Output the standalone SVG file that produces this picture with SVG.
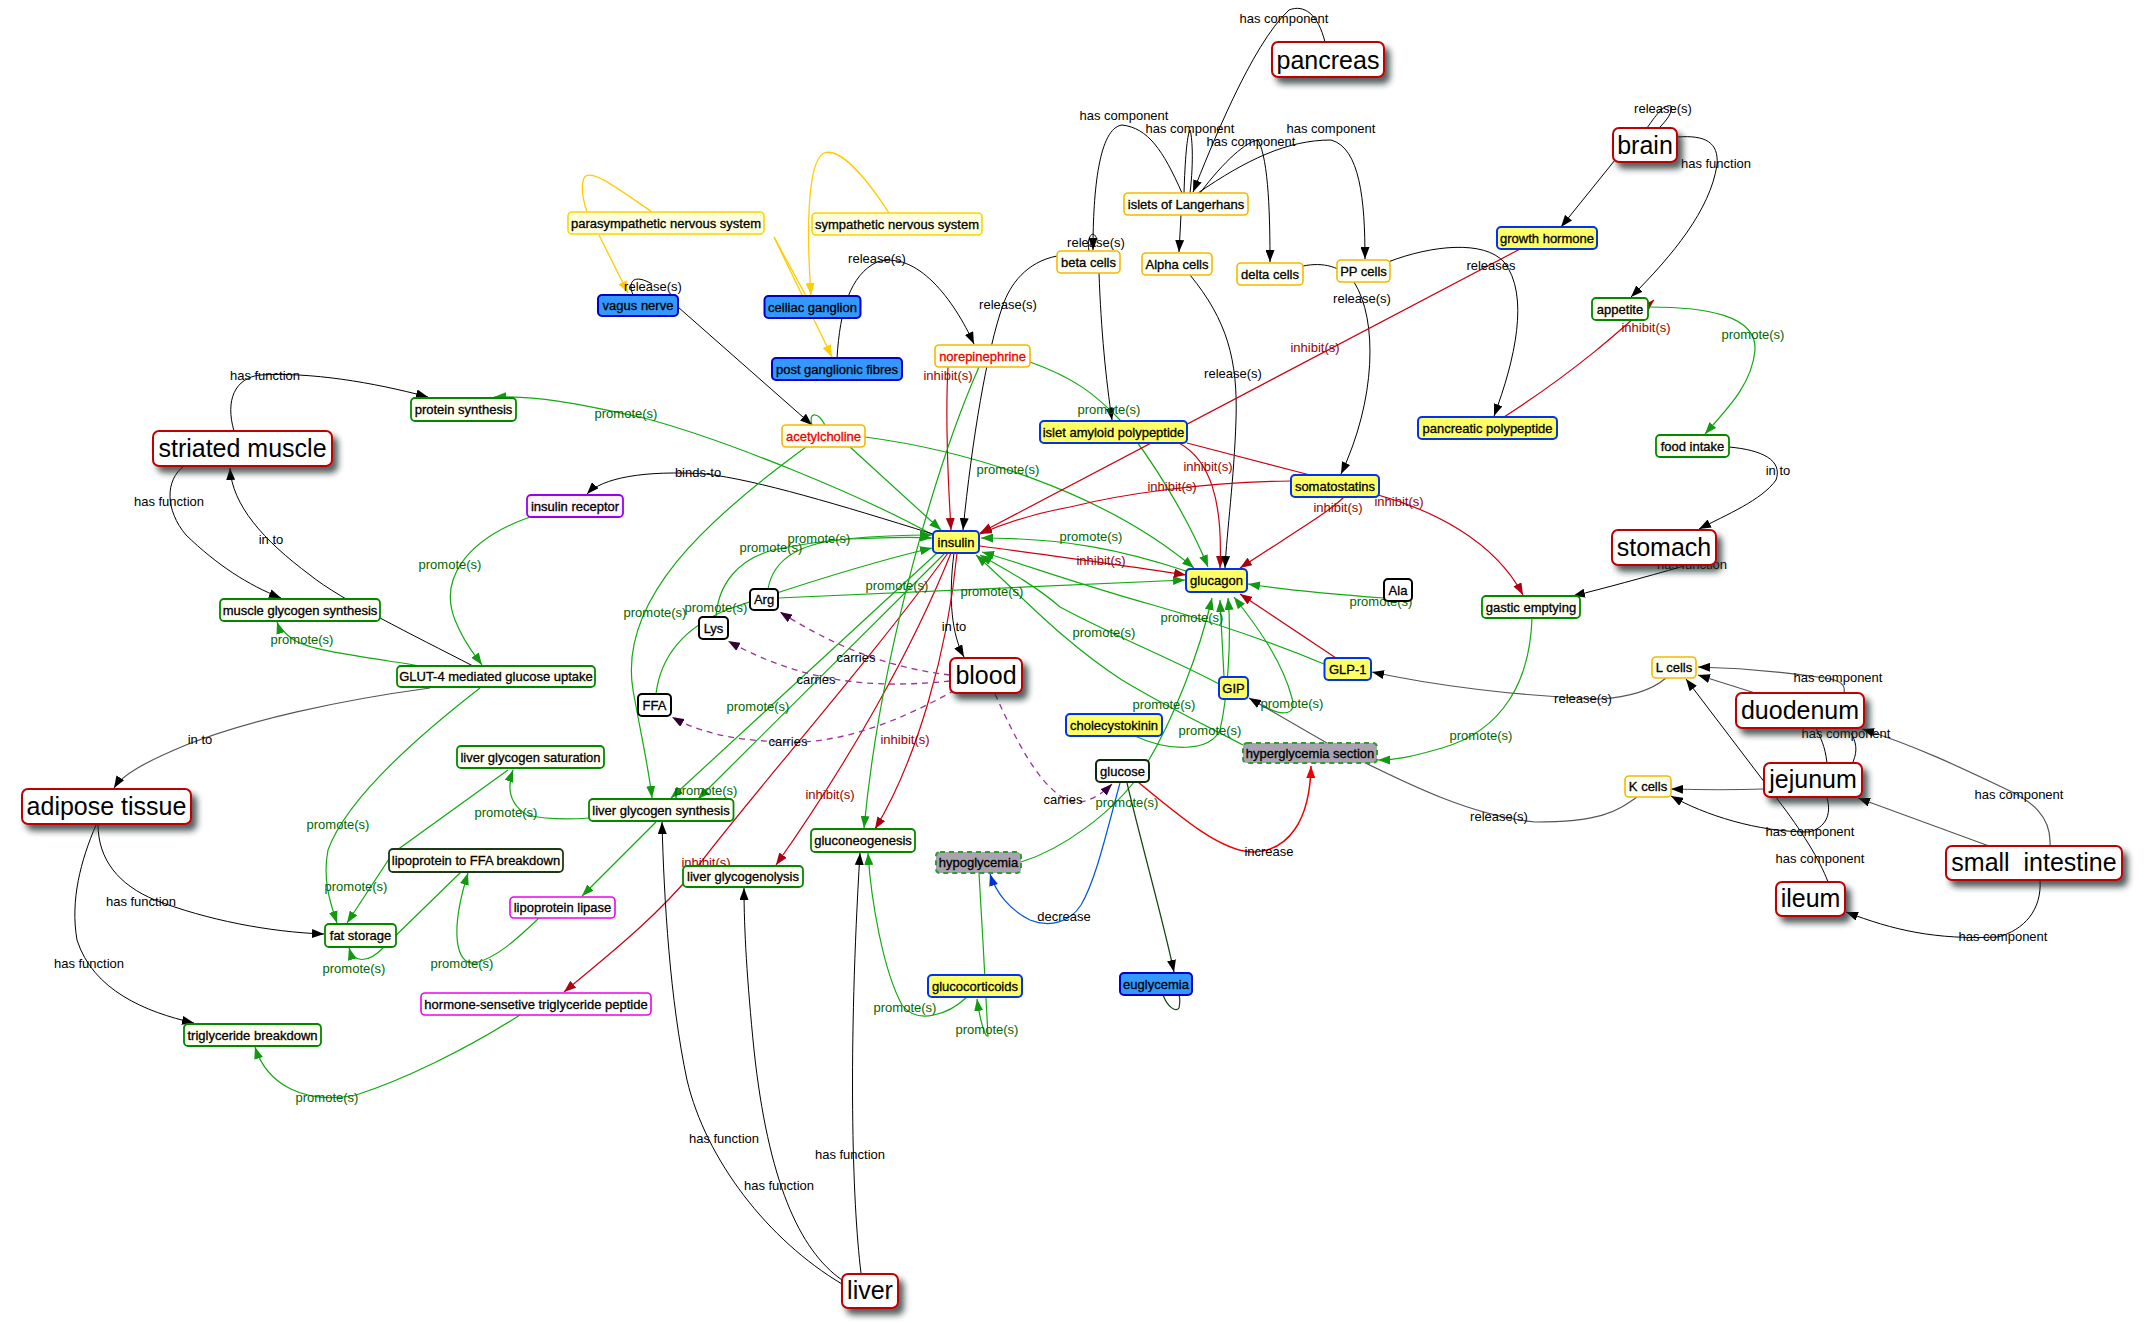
<svg xmlns="http://www.w3.org/2000/svg" width="2147" height="1323" viewBox="0 0 2147 1323">
<style>
text{font-family:"Liberation Sans",Arial,sans-serif;}
.t{font-size:13px;text-anchor:middle;fill:#000;stroke:#000;stroke-width:0.3;}
.T{font-size:25px;text-anchor:middle;fill:#000;}
.tr{font-size:13px;text-anchor:middle;fill:#ee0000;stroke:#ee0000;stroke-width:0.3;}
.el{font-size:13px;text-anchor:middle;fill:#000;}
.eg{font-size:13px;text-anchor:middle;fill:#006600;}
.er{font-size:13px;text-anchor:middle;fill:#990000;}
.org{fill:#fff;stroke:#c00000;stroke-width:2;filter:url(#sh);}
.yel{fill:#ffff66;stroke:#0033ee;stroke-width:2;}
.blu{fill:#3399ff;stroke:#0000cc;stroke-width:2;}
.gold{fill:#fffff2;stroke:#f5b800;stroke-width:1.6;}
.pale{fill:#ffffdd;stroke:#f5d800;stroke-width:1.6;}
.grn{fill:#fffff0;stroke:#008800;stroke-width:1.8;}
.dk{fill:#fffff0;stroke:#1a3a1a;stroke-width:1.8;}
.blk{fill:#fff;stroke:#000;stroke-width:2;}
.mag{fill:#fff;stroke:#ee00ee;stroke-width:1.6;}
.pur{fill:#fff4ff;stroke:#9900ee;stroke-width:1.8;}
.gry{fill:#a8a3ae;stroke:#339933;stroke-width:2;stroke-dasharray:5 4;}
.k{stroke:#000;stroke-width:1;fill:none;marker-end:url(#mk);}
.k0{stroke:#000;stroke-width:1;fill:none;}
.kg{stroke:#555;stroke-width:1.2;fill:none;marker-end:url(#mk);}
.g{stroke:#11aa11;stroke-width:1.2;fill:none;marker-end:url(#mg);}
.g0{stroke:#11aa11;stroke-width:1.2;fill:none;}
.r{stroke:#cc0011;stroke-width:1.2;fill:none;marker-end:url(#mr);}
.r0{stroke:#cc0011;stroke-width:1.2;fill:none;}
.rb{stroke:#ee0000;stroke-width:1.5;fill:none;marker-end:url(#mrb);}
.p{stroke:#993399;stroke-width:1.3;fill:none;stroke-dasharray:6 5;marker-end:url(#mp);}
.b{stroke:#0055dd;stroke-width:1.2;fill:none;marker-end:url(#mb);}
.y{stroke:#ffcc00;stroke-width:1.3;fill:none;marker-end:url(#my);}
.y0{stroke:#ffcc00;stroke-width:1.3;fill:none;}
.dg{stroke:#114411;stroke-width:1.2;fill:none;marker-end:url(#mk);}
.dg0{stroke:#114411;stroke-width:1.2;fill:none;}
</style>
<defs>
<filter id="sh" x="-20%" y="-30%" width="150%" height="190%">
<feDropShadow dx="5" dy="6" stdDeviation="3" flood-color="#1a2a2a" flood-opacity="0.75"/>
</filter>
<marker id="mk" viewBox="0 0 12 9" refX="12" refY="4.5" markerWidth="12" markerHeight="9" markerUnits="userSpaceOnUse" orient="auto"><path d="M0,0 L12,4.5 L0,9 z" fill="#000"/></marker>
<marker id="mg" viewBox="0 0 12 9" refX="12" refY="4.5" markerWidth="12" markerHeight="9" markerUnits="userSpaceOnUse" orient="auto"><path d="M0,0 L12,4.5 L0,9 z" fill="#119911"/></marker>
<marker id="mr" viewBox="0 0 12 9" refX="12" refY="4.5" markerWidth="12" markerHeight="9" markerUnits="userSpaceOnUse" orient="auto"><path d="M0,0 L12,4.5 L0,9 z" fill="#aa0011"/></marker>
<marker id="mrb" viewBox="0 0 12 9" refX="12" refY="4.5" markerWidth="12" markerHeight="9" markerUnits="userSpaceOnUse" orient="auto"><path d="M0,0 L12,4.5 L0,9 z" fill="#ee0000"/></marker>
<marker id="mp" viewBox="0 0 12 9" refX="12" refY="4.5" markerWidth="12" markerHeight="9" markerUnits="userSpaceOnUse" orient="auto"><path d="M0,0 L12,4.5 L0,9 z" fill="#330033"/></marker>
<marker id="mb" viewBox="0 0 12 9" refX="12" refY="4.5" markerWidth="12" markerHeight="9" markerUnits="userSpaceOnUse" orient="auto"><path d="M0,0 L12,4.5 L0,9 z" fill="#0033cc"/></marker>
<marker id="my" viewBox="0 0 12 9" refX="12" refY="4.5" markerWidth="12" markerHeight="9" markerUnits="userSpaceOnUse" orient="auto"><path d="M0,0 L12,4.5 L0,9 z" fill="#ffcc00"/></marker>
</defs>
<rect width="2147" height="1323" fill="#fff"/>
<g id="connectors">
<path class="k" d="M234 431 C225 400 235 378 260 375 C310 372 372 382 428 397"/>
<path class="k" d="M184 466 C165 480 165 510 186 535 C217 565 248 585 281 598"/>
<path class="k" d="M473 666 C413 635 341 600 310 575 C263 540 232 505 230 468"/>
<path class="g" d="M421 666 C351 655 310 650 294 640 C284 633 279 628 277 622"/>
<path class="g" d="M530 517 C465 540 439 580 455 620 C465 645 475 655 482 665"/>
<path class="kg" d="M430 688 C341 700 248 720 186 745 C145 762 122 775 114 788"/>
<path class="g" d="M480 688 C413 740 346 800 328 850 C322 880 331 905 337 923"/>
<path class="g" d="M508 770 L393 853 L347 923"/>
<path class="g" d="M589 818 C562 820 545 819 527 815 C511 805 506 790 513 770"/>
<path class="g" d="M539 918 C516 940 496 958 475 963 C455 965 450 930 468 873"/>
<path class="g" d="M461 872 L384 947 C367 965 353 962 349 948"/>
<path class="k" d="M98 824 C98 860 119 885 155 900 C207 920 269 932 324 934"/>
<path class="k" d="M96 825 C81 860 70 900 77 940 C93 990 145 1012 194 1023"/>
<path class="g" d="M520 1015 C465 1050 403 1080 356 1095 C305 1105 267 1085 255 1047"/>
<path class="g" d="M933 535 C861 495 726 440 644 418 C571 402 537 396 494 397"/>
<path class="k" d="M933 534 C840 505 757 480 706 474 C644 470 602 478 587 494"/>
<path class="k" d="M954 553 C948 600 952 635 964 657"/>
<path class="r" d="M957 553 C948 650 917 760 875 829"/>
<path class="r" d="M951 553 C912 650 850 760 776 865"/>
<path class="r" d="M948 553 C871 660 747 800 695 870 C654 920 602 960 564 992"/>
<path class="g" d="M937 553 L671 798"/>
<path class="g" d="M945 553 L698 799"/>
<path class="g" d="M806 447 C706 520 618 600 633 690 C642 740 649 770 652 798"/>
<path class="g" d="M850 447 L941 530"/>
<path class="g" d="M865 437 C964 450 1101 490 1194 568"/>
<path class="g0" d="M812 425 C808 413 817 410 825 425"/>
<path class="k" d="M678 307 L812 425"/>
<path class="k0" d="M633 295 C627 280 635 274 652 284"/>
<path class="y0" d="M652 212 C613 185 590 168 584 178 C580 188 583 200 587 212"/>
<path class="y" d="M599 235 L628 293"/>
<path class="y" d="M889 213 C861 170 838 148 824 153 C806 162 807 240 811 295"/>
<path class="y0" d="M774 237 L806 296"/>
<path class="y" d="M774 237 L832 357"/>
<path class="k" d="M837 358 C840 310 850 275 877 262 C917 250 954 300 974 344"/>
<path class="k" d="M1057 256 C1026 262 1010 285 1003 305 C987 350 972 440 963 530"/>
<path class="r" d="M948 367 C945 420 948 480 951 530"/>
<path class="g" d="M1030 362 C1075 378 1096 395 1120 420 C1153 460 1189 520 1208 567"/>
<path class="g" d="M979 367 C938 460 881 650 864 828"/>
<path class="g" d="M768 589 C773 560 799 542 850 539 C892 537 917 537 932 538"/>
<path class="g" d="M716 617 C718 585 737 560 773 550 C830 538 892 535 932 535"/>
<path class="g" d="M656 694 C660 660 680 630 726 610 C799 585 881 560 932 548"/>
<path class="g" d="M778 598 L1185 580"/>
<path class="p" d="M950 675 C892 668 840 650 780 612"/>
<path class="p" d="M950 681 C881 688 809 686 728 641"/>
<path class="p" d="M955 690 C902 720 840 745 783 742 C726 740 695 730 672 717"/>
<path class="p" d="M995 694 C1016 740 1036 780 1062 797 C1076 808 1096 800 1112 784"/>
<path class="r" d="M1179 443 C1210 460 1223 500 1220 568"/>
<path class="k" d="M1190 275 C1227 320 1238 360 1236 420 C1234 480 1227 530 1225 568"/>
<path class="k" d="M1303 266 C1323 262 1341 266 1354 282 C1378 320 1376 400 1341 474"/>
<path class="k" d="M1388 262 C1432 245 1484 240 1504 262 C1530 295 1515 360 1494 416"/>
<path class="k" d="M1181 215 L1179 252"/>
<path class="k" d="M1325 42 C1318 14 1304 4 1289 10 C1251 45 1210 150 1193 192"/>
<path class="k" d="M1182 193 C1163 150 1148 128 1122 125 C1099 128 1093 190 1093 250"/>
<path class="k0" d="M1184 193 C1185 160 1187 135 1190 130 C1192 135 1194 160 1190 193"/>
<path class="k" d="M1200 193 C1225 160 1246 142 1258 140 C1269 160 1270 220 1270 262"/>
<path class="k" d="M1198 193 C1246 160 1287 140 1331 140 C1360 148 1365 200 1365 259"/>
<path class="k0" d="M1089 251 C1086 236 1094 228 1097 240"/>
<path class="k" d="M1099 273 C1101 330 1106 380 1112 420"/>
<path class="k" d="M1615 160 L1561 227"/>
<path class="k0" d="M1647 128 C1658 112 1665 104 1671 106 C1673 112 1667 120 1659 128"/>
<path class="k" d="M1678 137 C1705 135 1719 142 1717 165 C1710 210 1673 255 1631 297"/>
<path class="r" d="M1522 248 L980 533"/>
<path class="r" d="M1504 417 C1577 370 1621 330 1654 300"/>
<path class="g" d="M1649 307 C1705 307 1757 315 1755 350 C1752 385 1726 410 1705 434"/>
<path class="k" d="M1729 447 C1762 450 1783 460 1776 480 C1762 500 1726 515 1699 529"/>
<path class="k" d="M1684 566 C1642 578 1605 588 1573 596"/>
<path class="r" d="M1378 495 C1432 510 1494 540 1523 595"/>
<path class="r" d="M1344 497 C1329 512 1298 530 1240 568"/>
<path class="r" d="M1291 481 C1205 482 1122 494 1070 507 C1026 515 1000 525 980 534"/>
<path class="r0" d="M1310 475 L1187 443"/>
<path class="r" d="M980 546 C1046 555 1122 565 1186 575"/>
<path class="g" d="M1186 571 C1122 550 1066 538 981 538"/>
<path class="r" d="M1336 658 L1240 594"/>
<path class="g" d="M1324 664 C1267 640 1205 620 1153 605 C1081 585 1026 565 982 552"/>
<path class="g" d="M1219 684 C1174 660 1112 635 1060 607 C1035 585 1003 568 980 555"/>
<path class="g" d="M1243 745 C1205 725 1163 705 1122 680 C1060 640 1016 590 976 555"/>
<path class="g" d="M1224 677 L1220 600"/>
<path class="g" d="M1135 736 C1169 752 1210 752 1220 730 C1227 700 1232 640 1228 598"/>
<path class="g" d="M1021 862 C1060 850 1112 815 1143 770 C1174 720 1200 650 1212 598"/>
<path class="g" d="M1263 705 C1277 715 1298 718 1292 698 C1282 660 1256 625 1234 597"/>
<path class="g" d="M1384 598 C1329 594 1287 590 1248 584"/>
<path class="kg" d="M1666 678 C1652 690 1631 697 1600 699 C1515 696 1432 685 1372 672"/>
<path class="kg" d="M1637 797 C1616 812 1600 822 1535 822 C1463 815 1391 775 1339 750 L1249 698"/>
<path class="g" d="M1532 618 C1530 680 1504 730 1442 748 C1411 757 1396 760 1378 760"/>
<path class="rb" d="M1138 782 C1184 820 1220 850 1251 852 C1289 852 1310 820 1311 766"/>
<path class="b" d="M1120 783 C1107 830 1096 880 1081 905 C1070 922 1050 928 1030 920 C1010 910 996 893 990 874"/>
<path class="dg" d="M1127 783 C1143 850 1163 920 1174 972"/>
<path class="dg0" d="M1163 995 C1168 1008 1176 1012 1179 1008 C1180 1003 1180 998 1179 995"/>
<path class="g" d="M967 997 C948 1015 917 1025 902 1005 C883 970 871 900 868 853"/>
<path class="g" d="M979 873 C982 920 986 1000 988 1036 C985 1038 980 1020 977 999"/>
<path class="k" d="M842 1280 C799 1250 768 1180 754 1050 C747 980 744 930 744 888"/>
<path class="k" d="M842 1284 C768 1240 706 1160 687 1080 C670 1000 664 900 662 822"/>
<path class="k" d="M861 1273 C852 1200 848 1050 860 853"/>
<path class="g" d="M656 822 L582 896"/>
<path class="kg" d="M1844 693 C1846 684 1839 680 1825 678 C1778 671 1736 668 1698 667"/>
<path class="kg" d="M1755 693 L1698 675"/>
<path class="k" d="M1828 882 C1820 860 1801 830 1778 800 L1686 679"/>
<path class="k" d="M1827 798 C1832 815 1825 828 1809 832 C1757 832 1705 815 1671 796"/>
<path class="kg" d="M1764 789 C1736 790 1705 790 1671 789"/>
<path class="kg" d="M1989 846 L1858 798"/>
<path class="kg" d="M2050 846 C2052 815 2029 800 2008 790 C1966 770 1914 745 1862 729"/>
<path class="k0" d="M1827 763 C1825 745 1820 737 1816 728"/>
<path class="k0" d="M1853 762 C1858 750 1856 742 1851 733"/>
<path class="k" d="M2040 880 C2042 910 2024 930 1998 937 C1935 940 1893 930 1846 912"/>
<g id="edge-labels">
<text class="el" x="265" y="380">has function</text>
<text class="el" x="169" y="506">has function</text>
<text class="el" x="271" y="544">in to</text>
<text class="eg" x="302" y="644">promote(s)</text>
<text class="eg" x="450" y="569">promote(s)</text>
<text class="el" x="200" y="744">in to</text>
<text class="eg" x="338" y="829">promote(s)</text>
<text class="eg" x="356" y="891">promote(s)</text>
<text class="eg" x="506" y="817">promote(s)</text>
<text class="eg" x="462" y="968">promote(s)</text>
<text class="eg" x="354" y="973">promote(s)</text>
<text class="el" x="141" y="906">has function</text>
<text class="el" x="89" y="968">has function</text>
<text class="eg" x="327" y="1102">promote(s)</text>
<text class="eg" x="626" y="418">promote(s)</text>
<text class="el" x="698" y="477">binds-to</text>
<text class="el" x="954" y="631">in to</text>
<text class="er" x="905" y="744">inhibit(s)</text>
<text class="er" x="830" y="799">inhibit(s)</text>
<text class="er" x="706" y="867">inhibit(s)</text>
<text class="eg" x="897" y="590">promote(s)</text>
<text class="eg" x="758" y="711">promote(s)</text>
<text class="eg" x="706" y="795">promote(s)</text>
<text class="eg" x="655" y="617">promote(s)</text>
<text class="eg" x="1008" y="474">promote(s)</text>
<text class="el" x="653" y="291">release(s)</text>
<text class="el" x="877" y="263">release(s)</text>
<text class="el" x="1008" y="309">release(s)</text>
<text class="er" x="948" y="380">inhibit(s)</text>
<text class="eg" x="1109" y="414">promote(s)</text>
<text class="eg" x="819" y="543">promote(s)</text>
<text class="eg" x="771" y="552">promote(s)</text>
<text class="eg" x="716" y="612">promote(s)</text>
<text class="eg" x="992" y="596">promote(s)</text>
<text class="el" x="856" y="662">carries</text>
<text class="el" x="816" y="684">carries</text>
<text class="el" x="788" y="746">carries</text>
<text class="el" x="1063" y="804">carries</text>
<text class="er" x="1208" y="471">inhibit(s)</text>
<text class="el" x="1233" y="378">release(s)</text>
<text class="el" x="1362" y="303">release(s)</text>
<text class="el" x="1491" y="270">releases</text>
<text class="el" x="1284" y="23">has component</text>
<text class="el" x="1124" y="120">has component</text>
<text class="el" x="1190" y="133">has component</text>
<text class="el" x="1251" y="146">has component</text>
<text class="el" x="1331" y="133">has component</text>
<text class="el" x="1096" y="247">release(s)</text>
<text class="el" x="1663" y="113">release(s)</text>
<text class="el" x="1716" y="168">has function</text>
<text class="er" x="1315" y="352">inhibit(s)</text>
<text class="er" x="1646" y="332">inhibit(s)</text>
<text class="eg" x="1753" y="339">promote(s)</text>
<text class="el" x="1778" y="475">in to</text>
<text class="el" x="1692" y="569">has function</text>
<text class="er" x="1399" y="506">inhibit(s)</text>
<text class="er" x="1338" y="512">inhibit(s)</text>
<text class="er" x="1172" y="491">inhibit(s)</text>
<text class="er" x="1101" y="565">inhibit(s)</text>
<text class="eg" x="1091" y="541">promote(s)</text>
<text class="eg" x="1192" y="622">promote(s)</text>
<text class="eg" x="1104" y="637">promote(s)</text>
<text class="eg" x="1164" y="709">promote(s)</text>
<text class="eg" x="1210" y="735">promote(s)</text>
<text class="eg" x="1127" y="807">promote(s)</text>
<text class="eg" x="1292" y="708">promote(s)</text>
<text class="eg" x="1381" y="606">promote(s)</text>
<text class="el" x="1583" y="703">release(s)</text>
<text class="el" x="1499" y="821">release(s)</text>
<text class="eg" x="1481" y="740">promote(s)</text>
<text class="el" x="1269" y="856">increase</text>
<text class="el" x="1064" y="921">decrease</text>
<text class="eg" x="905" y="1012">promote(s)</text>
<text class="eg" x="987" y="1034">promote(s)</text>
<text class="el" x="779" y="1190">has function</text>
<text class="el" x="724" y="1143">has function</text>
<text class="el" x="850" y="1159">has function</text>
<text class="el" x="1838" y="682">has component</text>
<text class="el" x="1820" y="863">has component</text>
<text class="el" x="1810" y="836">has component</text>
<text class="el" x="2019" y="799">has component</text>
<text class="el" x="1846" y="738">has component</text>
<text class="el" x="2003" y="941">has component</text>
</g>
</g>
<g id="nodes">
<g id="n-pancreas"><rect class="org" x="1272" y="42" width="112" height="35" rx="6"/><text class="T" x="1328" y="68.5">pancreas</text></g>
<g id="n-brain"><rect class="org" x="1613" y="128" width="64" height="34" rx="6"/><text class="T" x="1645" y="153.5">brain</text></g>
<g id="n-striated-muscle"><rect class="org" x="153" y="431" width="179" height="35" rx="6"/><text class="T" x="242.5" y="457">striated muscle</text></g>
<g id="n-stomach"><rect class="org" x="1612" y="530" width="104" height="35" rx="6"/><text class="T" x="1664" y="556">stomach</text></g>
<g id="n-adipose-tissue"><rect class="org" x="22" y="789" width="169" height="35" rx="6"/><text class="T" x="106.5" y="815">adipose tissue</text></g>
<g id="n-blood"><rect class="org" x="950" y="658" width="72" height="35" rx="6"/><text class="T" x="986" y="684">blood</text></g>
<g id="n-duodenum"><rect class="org" x="1736" y="693" width="128" height="35" rx="6"/><text class="T" x="1800" y="719">duodenum</text></g>
<g id="n-jejunum"><rect class="org" x="1764" y="763" width="98" height="34" rx="6"/><text class="T" x="1813" y="788">jejunum</text></g>
<g id="n-small-intestine"><rect class="org" x="1946" y="846" width="176" height="34" rx="6"/><text class="T" x="2034" y="871" xml:space="preserve">small  intestine</text></g>
<g id="n-ileum"><rect class="org" x="1776" y="882" width="69" height="34" rx="6"/><text class="T" x="1810.5" y="907">ileum</text></g>
<g id="n-liver"><rect class="org" x="842" y="1274" width="56" height="34" rx="6"/><text class="T" x="870" y="1299">liver</text></g>

<g id="n-insulin"><rect class="yel" x="933" y="531" width="46" height="22" rx="4"/><text class="t" x="956" y="546.5">insulin</text></g>
<g id="n-glucagon"><rect class="yel" x="1186" y="569" width="61" height="23" rx="4"/><text class="t" x="1216.5" y="585">glucagon</text></g>
<g id="n-islet-amyloid"><rect class="yel" x="1040" y="421" width="147" height="22" rx="4"/><text class="t" x="1113.5" y="436.5">islet amyloid polypeptide</text></g>
<g id="n-somatostatins"><rect class="yel" x="1291" y="475" width="88" height="22" rx="4"/><text class="t" x="1335" y="490.5">somatostatins</text></g>
<g id="n-growth-hormone"><rect class="yel" x="1497" y="227" width="100" height="22" rx="4"/><text class="t" x="1547" y="242.5">growth hormone</text></g>
<g id="n-pancreatic-polypeptide"><rect class="yel" x="1418" y="417" width="139" height="22" rx="4"/><text class="t" x="1487.5" y="432.5">pancreatic polypeptide</text></g>
<g id="n-glp1"><rect class="yel" x="1324.5" y="658" width="46.5" height="22" rx="4"/><text class="t" x="1347.75" y="673.5">GLP-1</text></g>
<g id="n-gip"><rect class="yel" x="1219" y="677" width="29" height="22" rx="4"/><text class="t" x="1233.5" y="692.5">GIP</text></g>
<g id="n-cholecystokinin"><rect class="yel" x="1066" y="714" width="96" height="22" rx="4"/><text class="t" x="1114" y="729.5">cholecystokinin</text></g>
<g id="n-glucocorticoids"><rect class="yel" x="928" y="975" width="94" height="22" rx="4"/><text class="t" x="975" y="990.5">glucocorticoids</text></g>

<g id="n-vagus-nerve"><rect class="blu" x="598" y="295" width="80" height="21" rx="4"/><text class="t" x="638" y="310">vagus nerve</text></g>
<g id="n-celliac-ganglion"><rect class="blu" x="764.5" y="296" width="96" height="22" rx="4"/><text class="t" x="812.5" y="311.5">celliac ganglion</text></g>
<g id="n-post-ganglionic"><rect class="blu" x="772" y="358" width="130" height="22" rx="4"/><text class="t" x="837" y="373.5">post ganglionic fibres</text></g>
<g id="n-euglycemia"><rect class="blu" x="1120" y="973" width="72" height="22" rx="4"/><text class="t" x="1156" y="988.5">euglycemia</text></g>

<g id="n-islets"><rect class="gold" x="1124" y="193" width="124" height="22" rx="4"/><text class="t" x="1186" y="208.5">islets of Langerhans</text></g>
<g id="n-beta-cells"><rect class="gold" x="1057" y="251" width="63" height="22" rx="4"/><text class="t" x="1088.5" y="266.5">beta cells</text></g>
<g id="n-alpha-cells"><rect class="gold" x="1142" y="253" width="70" height="22" rx="4"/><text class="t" x="1177" y="268.5">Alpha cells</text></g>
<g id="n-delta-cells"><rect class="gold" x="1237" y="263" width="66" height="22" rx="4"/><text class="t" x="1270" y="278.5">delta cells</text></g>
<g id="n-pp-cells"><rect class="gold" x="1337" y="260" width="53" height="22" rx="4"/><text class="t" x="1363.5" y="275.5">PP cells</text></g>
<g id="n-l-cells"><rect class="gold" x="1652" y="657" width="44" height="21" rx="4"/><text class="t" x="1674" y="672">L cells</text></g>
<g id="n-k-cells"><rect class="gold" x="1625" y="776" width="46" height="21" rx="4"/><text class="t" x="1648" y="791">K cells</text></g>
<g id="n-norepinephrine"><rect class="gold" x="935" y="345" width="95" height="22" rx="4"/><text class="tr" x="982.5" y="360.5">norepinephrine</text></g>
<g id="n-acetylcholine"><rect class="gold" x="782" y="425" width="83" height="22" rx="4"/><text class="tr" x="823.5" y="440.5">acetylcholine</text></g>

<g id="n-parasympathetic"><rect class="pale" x="568" y="212" width="196" height="22" rx="4"/><text class="t" x="666" y="227.5">parasympathetic nervous system</text></g>
<g id="n-sympathetic"><rect class="pale" x="812" y="213" width="170" height="22" rx="4"/><text class="t" x="897" y="228.5">sympathetic nervous system</text></g>

<g id="n-protein-synthesis"><rect class="grn" x="411" y="398" width="105" height="23" rx="4"/><text class="t" x="463.5" y="414">protein synthesis</text></g>
<g id="n-muscle-glycogen-synthesis"><rect class="grn" x="220" y="599" width="160" height="22" rx="4"/><text class="t" x="300" y="614.5">muscle glycogen synthesis</text></g>
<g id="n-glut4"><rect class="grn" x="397" y="666" width="198" height="21" rx="4"/><text class="t" x="496" y="681">GLUT-4 mediated glucose uptake</text></g>
<g id="n-liver-glycogen-saturation"><rect class="grn" x="457" y="746" width="147" height="22" rx="4"/><text class="t" x="530.5" y="761.5">liver glycogen saturation</text></g>
<g id="n-liver-glycogen-synthesis"><rect class="grn" x="589" y="799" width="144.5" height="22" rx="4"/><text class="t" x="661" y="814.5">liver glycogen synthesis</text></g>
<g id="n-liver-glycogenolysis"><rect class="grn" x="683" y="866" width="120" height="21" rx="4"/><text class="t" x="743" y="881">liver glycogenolysis</text></g>
<g id="n-gluconeogenesis"><rect class="grn" x="811" y="829" width="104" height="23" rx="4"/><text class="t" x="863" y="845">gluconeogenesis</text></g>
<g id="n-fat-storage"><rect class="grn" x="325" y="924" width="71" height="23" rx="4"/><text class="t" x="360.5" y="940">fat storage</text></g>
<g id="n-triglyceride-breakdown"><rect class="grn" x="184" y="1024" width="137" height="22" rx="4"/><text class="t" x="252.5" y="1039.5">triglyceride breakdown</text></g>
<g id="n-appetite"><rect class="grn" x="1592" y="298" width="56" height="22" rx="4"/><text class="t" x="1620" y="313.5">appetite</text></g>
<g id="n-food-intake"><rect class="grn" x="1656" y="435" width="73" height="22" rx="4"/><text class="t" x="1692.5" y="450.5">food intake</text></g>
<g id="n-gastic-emptying"><rect class="grn" x="1482" y="596" width="98" height="22" rx="4"/><text class="t" x="1531" y="611.5">gastic emptying</text></g>
<g id="n-lipoprotein-ffa"><rect class="dk" x="389" y="849" width="174" height="23" rx="4"/><text class="t" x="476" y="865">lipoprotein to FFA breakdown</text></g>

<g id="n-arg"><rect class="blk" x="750" y="589" width="28" height="21" rx="4"/><text class="t" x="764" y="604">Arg</text></g>
<g id="n-lys"><rect class="blk" x="699" y="617" width="29" height="22" rx="4"/><text class="t" x="713.5" y="632.5">Lys</text></g>
<g id="n-ffa"><rect class="blk" x="638" y="694" width="33" height="22" rx="4"/><text class="t" x="654.5" y="709.5">FFA</text></g>
<g id="n-ala"><rect class="blk" x="1384" y="579" width="28" height="22" rx="4"/><text class="t" x="1398" y="594.5">Ala</text></g>
<g id="n-glucose"><rect class="blk" x="1096" y="760" width="53" height="22" rx="4" style="stroke:#0d2a0d"/><text class="t" x="1122.5" y="775.5">glucose</text></g>

<g id="n-insulin-receptor"><rect class="pur" x="527" y="495" width="96" height="22" rx="4"/><text class="t" x="575" y="510.5">insulin receptor</text></g>
<g id="n-lipoprotein-lipase"><rect class="mag" x="510" y="897" width="105" height="21" rx="4"/><text class="t" x="562.5" y="912">lipoprotein lipase</text></g>
<g id="n-hormone-sensetive"><rect class="mag" x="421" y="993" width="230" height="22" rx="4"/><text class="t" x="536" y="1008.5">hormone-sensetive triglyceride peptide</text></g>

<g id="n-hypoglycemia"><rect class="gry" x="936" y="852" width="85" height="21" rx="4"/><text class="t" x="978.5" y="867">hypoglycemia</text></g>
<g id="n-hyperglycemia"><rect class="gry" x="1243" y="743" width="134" height="20" rx="4"/><text class="t" x="1310" y="757.5">hyperglycemia section</text></g>
</g>
</svg>
